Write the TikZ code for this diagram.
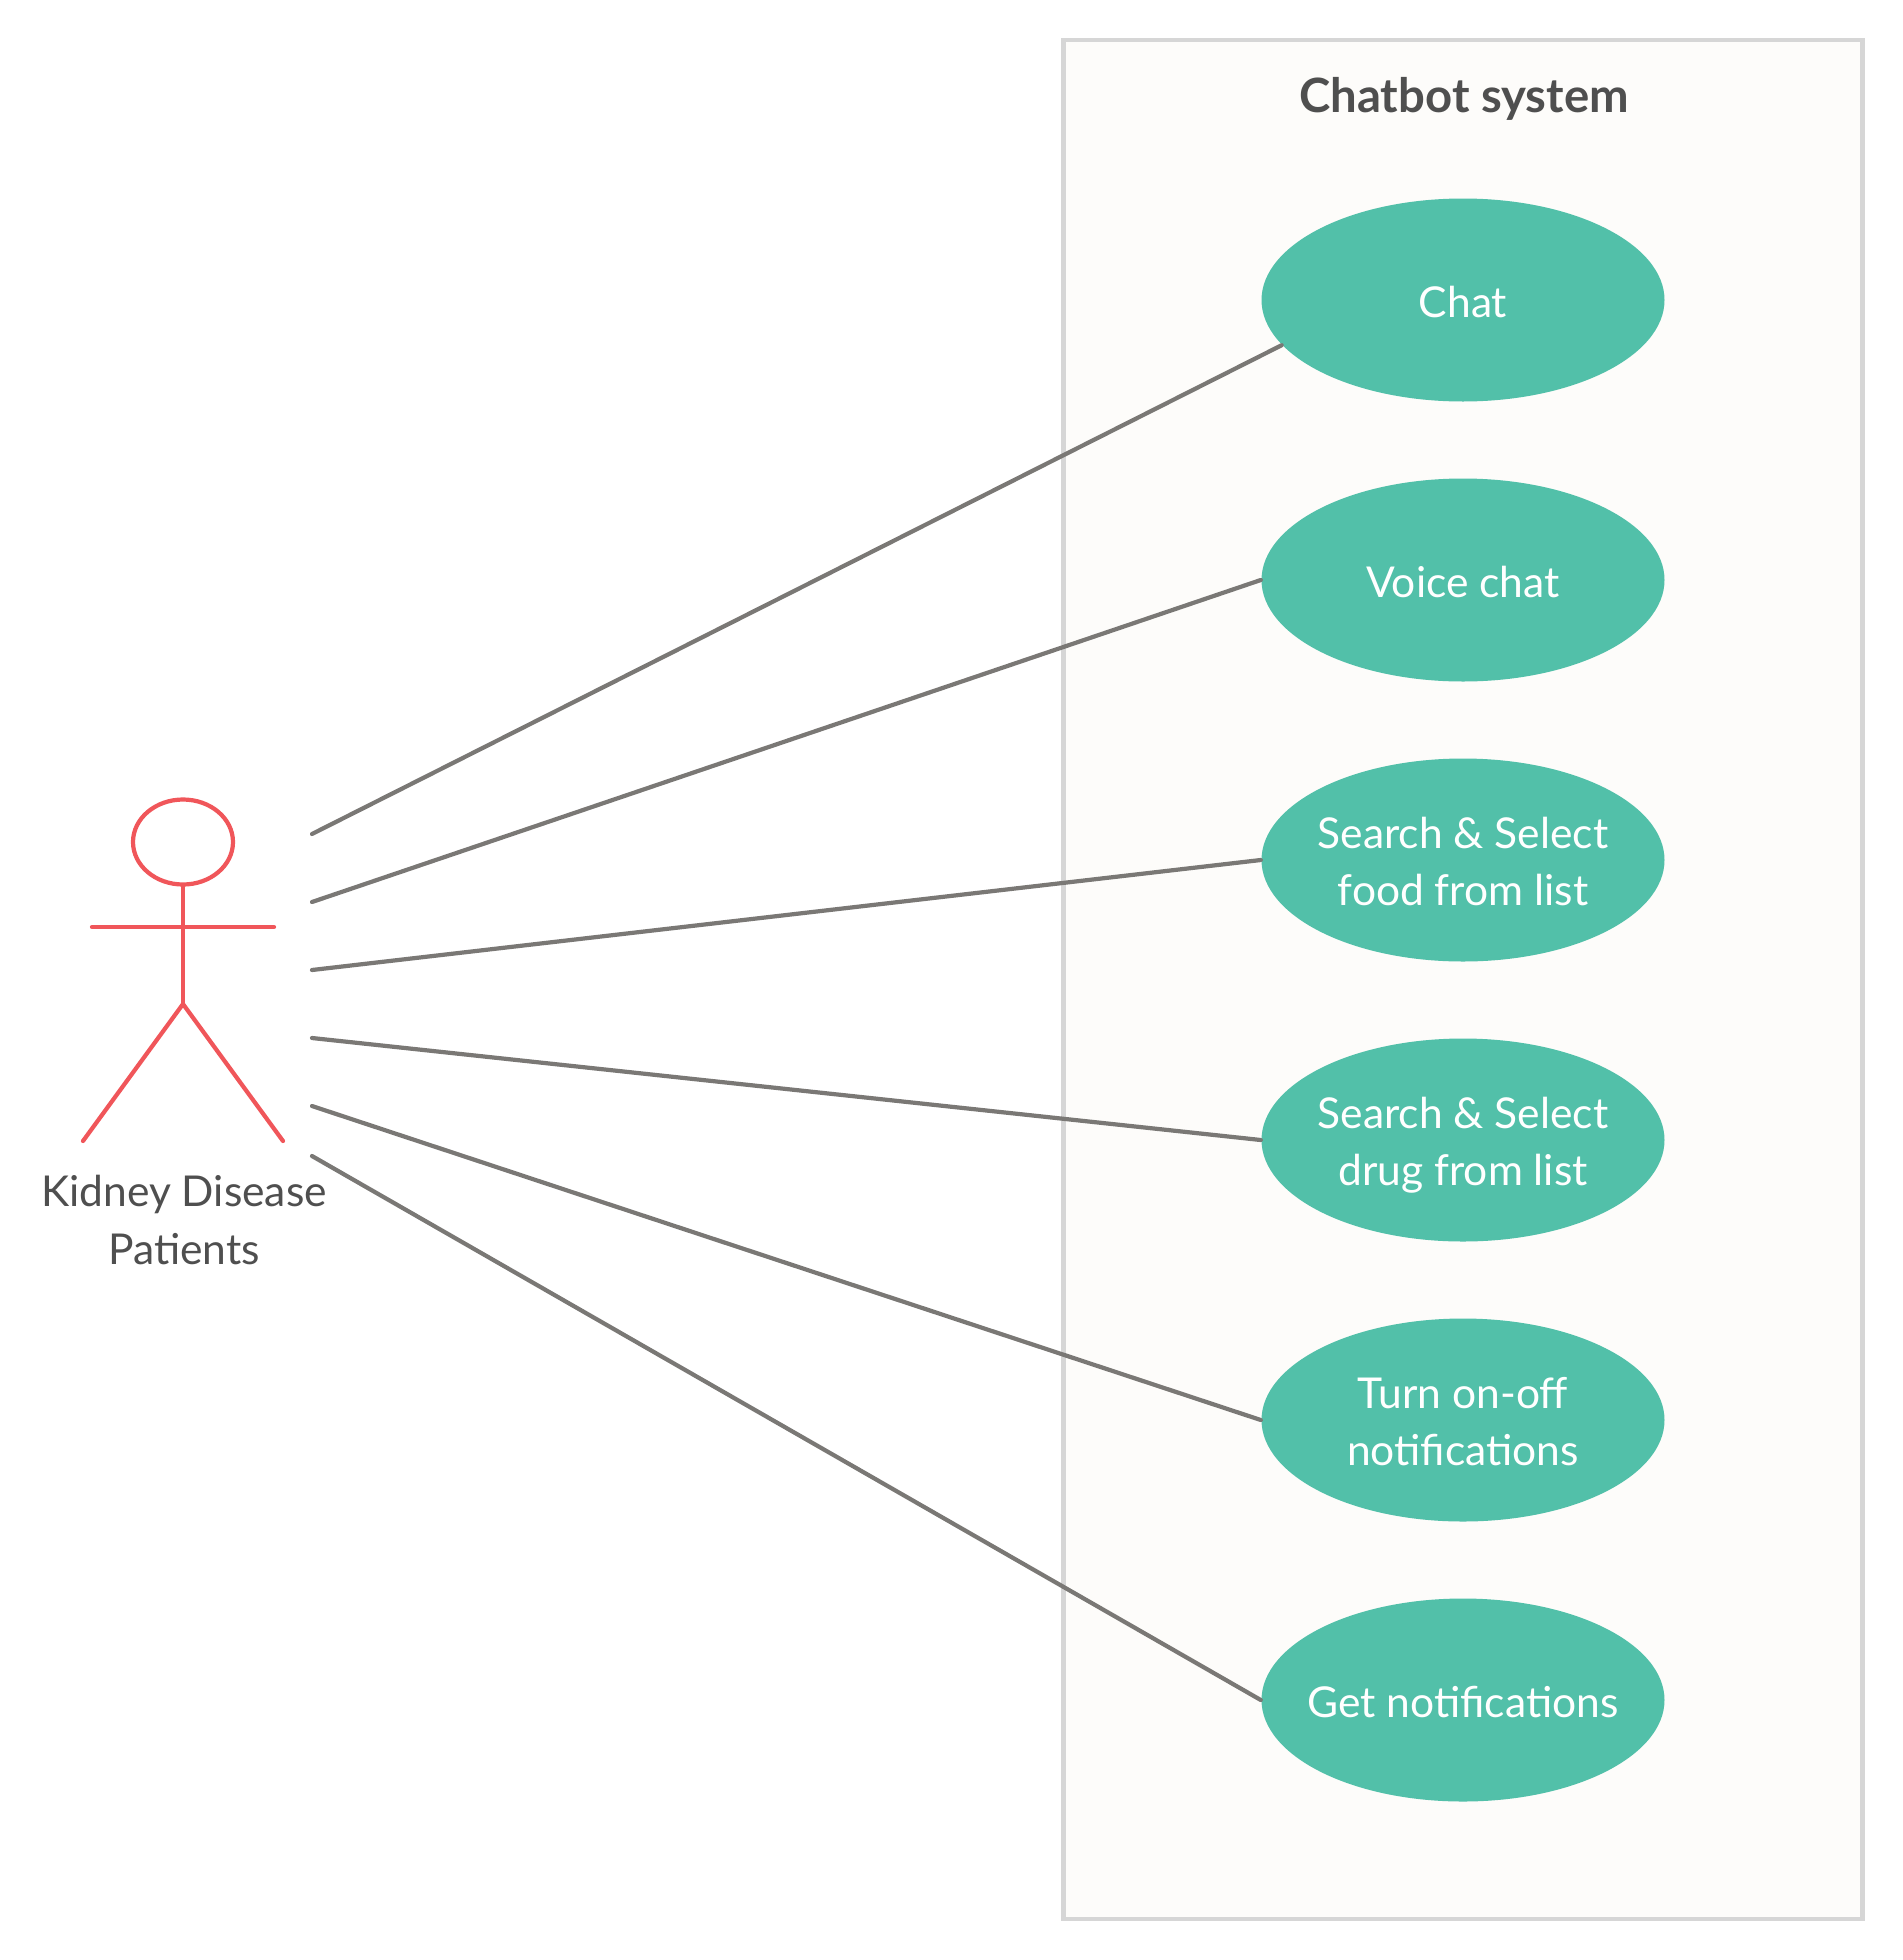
\documentclass[tikz,border=0pt]{standalone}
\usepackage{fontspec}
\setmainfont{Lato}
\usetikzlibrary{shapes.geometric}
\definecolor{casegreen}{HTML}{52C0A9}
\definecolor{actorred}{HTML}{F0565A}
\definecolor{linkgray}{HTML}{7A7875}
\definecolor{boxgray}{HTML}{D6D6D6}
\definecolor{boxfill}{HTML}{FDFCFA}
\definecolor{textgray}{HTML}{4F4F4F}
\newcommand{\casetext}[1]{\raisebox{-1.6pt}[\height][\depth]{\begin{tabular}{@{}c@{}}#1\end{tabular}}}

\begin{document}
\begin{tikzpicture}[node distance=2.8cm, case node/.style={ellipse, fill=casegreen, text=white, minimum width=4.03cm, minimum height=2.03cm, inner sep=-1cm, font=\fontsize{12.1}{16.4}\selectfont}, link/.style={draw=linkgray, line width=1.2pt, line cap=round}, stick/.style={draw=actorred, line width=1.2pt, line cap=round}]
\useasboundingbox (0,0) rectangle (19.03,-19.60);
% system box
\node[rectangle, draw=boxgray, fill=boxfill, line width=1.2pt, minimum width=7.99cm, minimum height=18.79cm, inner sep=0pt](system) at (14.63,-9.795){};
\node[text=textgray, font=\fontsize{13.45}{16}\selectfont\bfseries](title) at (14.64,-0.985){Chatbot system};
% use cases
\node[case node](chat) at (14.63,-3.00){\casetext{Chat}};
\foreach \s/\t/\l in {voice/chat/Voice chat, food/voice/{Search \& Select\\food from list}, drug/food/{Search \& Select\\drug from list}, turn/drug/{Turn on-off\\notifications}, get/turn/Get notifications}{
    \node[case node] (\s) [below of = \t] {\casetext{\l}};}
% actor
\node[ellipse, stick, minimum width=1cm, minimum height=.85cm, inner sep=0pt](head) at (1.83,-8.42){};
\coordinate (hip) at (1.83,-10.04);
\coordinate (armL) at (.92,-9.27);
\coordinate (armR) at (2.74,-9.27);
\coordinate (footL) at (.83,-11.41);
\coordinate (footR) at (2.83,-11.41);
\draw[stick] (head.south) -- (hip);
\draw[stick] (armL) -- (armR);
\draw[stick] (footL) -- (hip) -- (footR);
\node[text=textgray, align=center, font=\fontsize{12.1}{16.4}\selectfont](actor) at (1.84,-12.20){Kidney Disease\\Patients};
% links
\foreach \n/\y/\e in {1/8.34/chat.194.3, 2/9.02/voice.west, 3/9.70/food.west, 4/10.38/drug.west, 5/11.06/turn.west, 6/11.56/get.west}{
    \coordinate (from\n) at (3.12,-\y);
    \draw[link] (from\n) -- (\e);}
\end{tikzpicture}
\end{document}
